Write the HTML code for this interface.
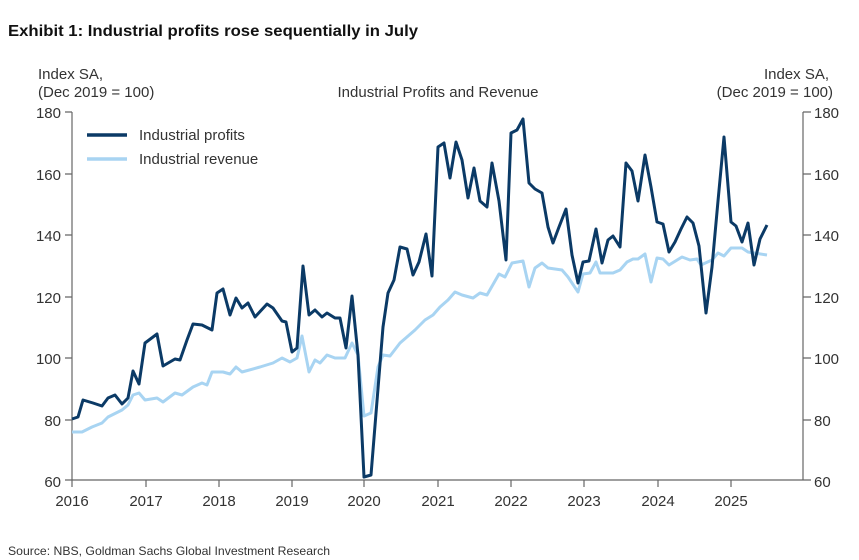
<!DOCTYPE html>
<html><head><meta charset="utf-8"><style>
html,body{margin:0;padding:0;background:#fff;}
svg{display:block;font-family:"Liberation Sans",Arial,sans-serif;}
</style></head><body>
<svg width="859" height="560" viewBox="0 0 859 560" xmlns="http://www.w3.org/2000/svg">
<text x="8" y="36" font-size="16" font-weight="bold" fill="#111" textLength="410" lengthAdjust="spacingAndGlyphs">Exhibit 1: Industrial profits rose sequentially in July</text>
<g font-size="15" fill="#333">
<text x="38" y="79">Index SA,</text>
<text x="38" y="97">(Dec 2019 = 100)</text>
<text x="829" y="79" text-anchor="end">Index SA,</text>
<text x="833" y="97" text-anchor="end">(Dec 2019 = 100)</text>
<text x="438" y="97" text-anchor="middle">Industrial Profits and Revenue</text>
</g>
<g stroke="#666" stroke-width="1.2" fill="none">
<line x1="72" y1="112" x2="72" y2="480"/>
<line x1="803" y1="112" x2="803" y2="480"/>
<line x1="72" y1="480" x2="803" y2="480"/>
<path d="M65 112H72M65 174H72M65 235H72M65 297H72M65 358H72M65 420H72M65 480H72"/>
<path d="M803 112H811M803 174H811M803 235H811M803 297H811M803 358H811M803 420H811M803 480H811"/>
<path d="M72 480V487M146 480V487M219 480V487M292 480V487M364 480V487M438 480V487M511 480V487M584 480V487M658 480V487M731 480V487"/>
</g>
<g font-size="15" fill="#333" text-anchor="end">
<text x="61" y="118">180</text><text x="61" y="180">160</text><text x="61" y="241">140</text><text x="61" y="303">120</text><text x="61" y="364">100</text><text x="61" y="426">80</text><text x="61" y="487">60</text>
</g>
<g font-size="15" fill="#333">
<text x="814" y="118">180</text><text x="814" y="180">160</text><text x="814" y="241">140</text><text x="814" y="303">120</text><text x="814" y="364">100</text><text x="814" y="426">80</text><text x="814" y="487">60</text>
</g>
<g font-size="15" fill="#333" text-anchor="middle">
<text x="72" y="506">2016</text><text x="146" y="506">2017</text><text x="219" y="506">2018</text><text x="292" y="506">2019</text><text x="364" y="506">2020</text><text x="438" y="506">2021</text><text x="511" y="506">2022</text><text x="584" y="506">2023</text><text x="658" y="506">2024</text><text x="731" y="506">2025</text>
</g>
<polyline fill="none" stroke="#a8d4f2" stroke-width="3" stroke-linejoin="round" points="72,432 82,432 92,427 102,423 108,417 122,410 128,405 133,395 139,393 145,400 157,398 163,402 175,393 182,395 193,387 202,383 207,385 212,372 223,372 230,374 236,367 242,372 260,367 273,363 282,358 290,362 297,358 302,336 309,372 315,360 320,363 327,355 335,358 345,358 352,343 358,355 364,416 371,413 378,367 383,355 390,356 400,343 415,330 420,325 425,320 433,315 440,307 448,300 455,292 462,295 473,298 480,293 487,295 499,274 505,277 512,263 523,261 529,287 535,268 542,263 548,268 562,270 568,277 578,292 583,274 590,273 596,262 600,273 613,273 620,270 627,262 633,259 638,259 645,254 651,282 657,258 663,259 669,265 682,257 690,260 697,259 701,265 712,260 718,253 724,256 731,248 742,248 748,252 754,253 767,255"/>
<polyline fill="none" stroke="#0b3a66" stroke-width="3" stroke-linejoin="round" points="72,419 78,417 83,400 93,403 102,406 108,398 115,395 122,404 128,398 133,371 139,384 145,343 157,334 163,366 175,359 180,360 187,340 193,324 202,325 212,330 217,293 223,289 230,315 236,298 242,308 248,303 255,317 267,304 273,308 282,321 286,322 292,352 297,348 303,266 309,315 315,310 322,317 327,313 335,318 340,318 346,348 352,296 358,355 364,477 371,475 383,327 388,293 394,280 400,247 407,249 413,275 419,262 426,234 432,276 438,147 444,143 450,178 456,142 462,160 468,198 474,168 480,201 487,207 492,163 499,201 506,260 511,133 517,130 523,119 529,183 535,189 542,193 548,227 553,243 559,227 566,209 572,255 578,283 583,262 589,261 596,229 602,263 608,240 613,236 620,247 626,163 632,171 638,201 645,155 651,187 657,222 663,224 669,252 675,242 681,229 687,217 693,223 699,246 706,313 712,267 718,201 724,137 731,222 736,226 742,242 748,223 754,265 760,239 767,225"/>
<line x1="87" y1="135" x2="127" y2="135" stroke="#0b3a66" stroke-width="3.5"/>
<line x1="87" y1="159" x2="127" y2="159" stroke="#a8d4f2" stroke-width="3.5"/>
<text x="139" y="140" font-size="15" fill="#333">Industrial profits</text>
<text x="139" y="164" font-size="15" fill="#333">Industrial revenue</text>
<text x="8" y="555" font-size="12" fill="#333" textLength="322" lengthAdjust="spacingAndGlyphs">Source: NBS, Goldman Sachs Global Investment Research</text>
</svg>
</body></html>
